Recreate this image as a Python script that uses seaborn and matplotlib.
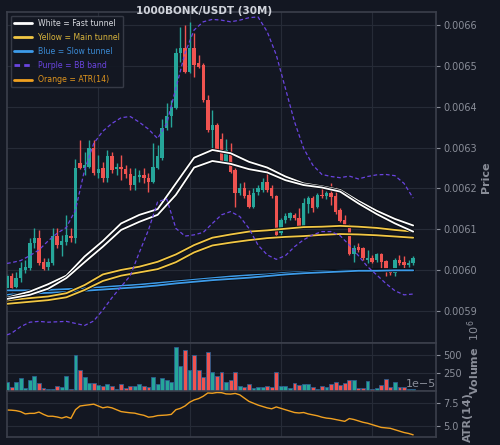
import numpy as np
import matplotlib
matplotlib.use('Agg')
import matplotlib.pyplot as plt
import matplotlib.patheffects as pe
from matplotlib.lines import Line2D
from matplotlib.ticker import FormatStrFormatter, MultipleLocator, FixedLocator
import seaborn as sns

# ---- candle data (prices in 1e-6 USDT) ----
opens = [5955, 5984, 5959, 5980, 6000, 6004, 6065, 6078, 6019, 6008,
         6016, 6082, 6061, 6069, 6084, 6079, 6261, 6251, 6253, 6298,
         6237, 6249, 6225, 6278, 6247, 6253, 6247, 6234, 6208, 6227,
         6233, 6225, 6216, 6251, 6275, 6347, 6376, 6398, 6531, 6543,
         6486, 6543, 6506, 6502, 6416, 6343, 6355, 6322, 6265, 6290,
         6245, 6188, 6202, 6184, 6155, 6192, 6196, 6216, 6200, 6180,
         6090, 6122, 6127, 6135, 6128, 6105, 6161, 6176, 6155, 6184,
         6180, 6189, 6180, 6147, 6122, 6110, 6038, 6057, 6053, 6025,
         6029, 6025, 6038, 6022, 6004, 5992, 6025, 6020, 6011, 6016]
highs = [5990, 5992, 5996, 6020, 6025, 6078, 6102, 6098, 6029, 6029,
         6102, 6102, 6086, 6135, 6102, 6273, 6318, 6290, 6318, 6318,
         6282, 6265, 6294, 6290, 6261, 6282, 6257, 6249, 6249, 6245,
         6249, 6237, 6310, 6306, 6371, 6408, 6416, 6543, 6596, 6600,
         6608, 6580, 6527, 6506, 6429, 6392, 6359, 6335, 6322, 6310,
         6249, 6212, 6216, 6196, 6200, 6208, 6225, 6245, 6208, 6184,
         6127, 6139, 6143, 6139, 6151, 6176, 6180, 6180, 6188, 6200,
         6193, 6212, 6204, 6151, 6135, 6112, 6061, 6065, 6057, 6049,
         6037, 6041, 6041, 6025, 6006, 6029, 6037, 6033, 6025, 6033]
lows = [5948, 5947, 5955, 5971, 5992, 6000, 6053, 6012, 6000, 6000,
        6012, 6053, 6033, 6061, 6069, 6065, 6247, 6233, 6249, 6233,
        6225, 6216, 6216, 6237, 6233, 6220, 6225, 6196, 6196, 6216,
        6212, 6192, 6212, 6247, 6269, 6343, 6351, 6394, 6510, 6482,
        6482, 6473, 6494, 6412, 6339, 6298, 6290, 6261, 6261, 6237,
        6155, 6184, 6176, 6151, 6151, 6184, 6192, 6192, 6176, 6082,
        6082, 6114, 6122, 6122, 6102, 6102, 6139, 6143, 6151, 6176,
        6174, 6159, 6137, 6118, 6106, 6037, 6020, 6043, 6025, 6016,
        6016, 6020, 6000, 5984, 5988, 5984, 6012, 6004, 6008, 6012]
closes = [5984, 5957, 5980, 6004, 6008, 6065, 6079, 6016, 6002, 6019,
          6082, 6060, 6071, 6086, 6078, 6249, 6251, 6257, 6298, 6237,
          6247, 6225, 6278, 6245, 6253, 6247, 6234, 6208, 6230, 6233,
          6226, 6216, 6253, 6278, 6347, 6376, 6400, 6531, 6543, 6486,
          6543, 6502, 6498, 6416, 6343, 6355, 6294, 6265, 6294, 6241,
          6188, 6202, 6180, 6155, 6189, 6200, 6216, 6196, 6180, 6086,
          6122, 6131, 6139, 6127, 6105, 6163, 6176, 6153, 6184, 6180,
          6188, 6178, 6143, 6121, 6110, 6038, 6055, 6049, 6029, 6030,
          6020, 6038, 6020, 6000, 5992, 6025, 6016, 6011, 6018, 6029]

# volume in millions
volume_m = [123, 62, 123, 184, 38, 147, 208, 109, 43, 24,
            24, 76, 53, 208, 29, 504, 297, 194, 109, 109,
            90, 67, 100, 76, 29, 95, 38, 67, 67, 100,
            67, 53, 194, 100, 179, 147, 123, 607, 353, 570,
            288, 504, 288, 194, 537, 264, 212, 264, 132, 147,
            264, 67, 53, 100, 43, 53, 53, 76, 53, 259,
            67, 67, 38, 109, 85, 100, 100, 53, 29, 71,
            53, 100, 123, 85, 109, 147, 147, 38, 38, 137,
            24, 38, 85, 170, 53, 123, 62, 53, 29, 24]

# ATR(14) in 1e-5
atr_e5 = [6.72, 6.70, 6.65, 6.54, 6.30, 6.36, 6.36, 6.50, 6.25, 6.05,
          6.05, 5.97, 5.85, 6.00, 5.82, 6.75, 7.15, 7.22, 7.28, 7.35,
          7.15, 6.95, 7.05, 6.95, 6.75, 6.55, 6.48, 6.42, 6.38, 6.25,
          6.15, 5.95, 6.00, 6.12, 6.15, 6.18, 6.25, 6.75, 6.90, 7.15,
          7.55, 7.80, 7.95, 8.20, 8.55, 8.52, 8.60, 8.58, 8.45, 8.43,
          8.50, 8.35, 8.00, 7.65, 7.45, 7.25, 7.10, 6.95, 6.85, 7.05,
          6.90, 6.75, 6.60, 6.45, 6.40, 6.45, 6.30, 6.20, 6.10, 5.95,
          5.85, 5.80, 5.70, 5.60, 5.50, 5.80, 5.70, 5.55, 5.40, 5.30,
          5.15, 5.00, 4.85, 4.80, 4.75, 4.60, 4.45, 4.30, 4.20, 4.05]

# tunnels, read every 4th bar (1e-6 USDT)
tunnel_idx = [0, 1, 5, 9, 13, 17, 21, 25, 29, 33, 37, 41, 45,
              49, 53, 57, 61, 65, 69, 73, 77, 81, 85, 89]
fast_hi = [5932, 5935, 5947, 5965, 5986, 6033, 6071, 6114, 6135, 6149, 6212, 6275, 6294,
           6286, 6265, 6251, 6229, 6212, 6205, 6196, 6169, 6145, 6125, 6109]
fast_lo = [5929, 5931, 5939, 5954, 5980, 6019, 6057, 6098, 6118, 6135, 6184, 6251, 6267,
           6260, 6247, 6239, 6220, 6208, 6202, 6192, 6163, 6137, 6114, 6094]
main_hi = [5925, 5927, 5931, 5935, 5943, 5963, 5989, 6000, 6008, 6020, 6038, 6061, 6079,
           6087, 6094, 6097, 6101, 6105, 6106, 6108, 6106, 6103, 6098, 6094]
main_lo = [5917, 5918, 5922, 5926, 5933, 5951, 5973, 5986, 5994, 6002, 6019, 6043, 6060,
           6067, 6073, 6078, 6081, 6083, 6086, 6088, 6087, 6085, 6082, 6079]
slow_hi = [5950, 5950, 5950, 5951, 5953, 5955, 5958, 5961, 5964, 5968, 5972, 5976, 5980,
           5984, 5987, 5989, 5993, 5995, 5997, 5998, 5999, 6000, 6000, 6000]
slow_lo = [5939, 5940, 5942, 5944, 5946, 5949, 5952, 5955, 5958, 5962, 5967, 5971, 5975,
           5978, 5981, 5985, 5989, 5992, 5994, 5996, 5998, 5998, 5999, 5999]

# Bollinger bands, read every 2nd bar (1e-6 USDT)
bb_idx = [0] + list(range(1, 90, 2))
bb_upper = [6016, 6018, 6023, 6035, 6049, 6071, 6090, 6104, 6147, 6245, 6310,
            6340, 6359, 6373, 6376, 6362, 6345, 6322, 6359, 6445, 6531,
            6588, 6608, 6614, 6612, 6608, 6612, 6618, 6620, 6584, 6527,
            6445, 6363, 6298, 6257, 6234, 6229, 6226, 6230, 6223, 6229,
            6233, 6234, 6231, 6212, 6176]
bb_lower = [5841, 5845, 5861, 5872, 5874, 5872, 5873, 5874, 5869, 5864, 5875,
            5902, 5932, 5959, 5986, 6043, 6098, 6167, 6174, 6102, 6083,
            6086, 6092, 6114, 6135, 6143, 6131, 6102, 6061, 6037, 6026,
            6035, 6057, 6074, 6086, 6094, 6094, 6084, 6061, 6035, 6008,
            5988, 5967, 5949, 5939, 5941]

# ---- style ----
BG = '#131722'
GRID = '#262b37'
SPINE = '#3b3f4b'
TXT = '#8a8e99'
UP = '#26a69a'
DOWN = '#ef5350'
WHITE = '#ffffff'
YELLOW = '#f2c744'
BLUE = '#3d9be9'
PURPLE = '#6a44e0'
ORANGE = '#f0a020'

sns.set_theme(style='dark', rc={'axes.facecolor': BG, 'figure.facecolor': BG,
                                'axes.edgecolor': SPINE, 'grid.color': GRID,
                                'text.color': TXT, 'ytick.color': TXT, 'xtick.color': TXT})
plt.rcParams['font.family'] = ['DejaVu Sans']

fig = plt.figure(figsize=(5, 4.45), dpi=100)
ax_p = fig.add_axes([0.014, 0.2292, 0.858, 0.7438])
ax_v = fig.add_axes([0.014, 0.1213, 0.858, 0.1079], sharex=ax_p)
ax_a = fig.add_axes([0.014, 0.0180, 0.858, 0.1033], sharex=ax_p)

o = np.array(opens) * 1e-6
h = np.array(highs) * 1e-6
l = np.array(lows) * 1e-6
c = np.array(closes) * 1e-6
x = np.arange(len(o))
cols = np.where(c >= o, UP, DOWN)

# candles
ax_p.vlines(x, l, h, colors=cols, lw=1, zorder=2)
ax_p.bar(x, np.maximum(np.abs(c - o), 1e-6), bottom=np.minimum(o, c), width=0.75,
         color=cols, linewidth=0, zorder=3)

# tunnels
stroke = [pe.Stroke(linewidth=2.6, foreground='#0b0e14'), pe.Normal()]
for ys, col in [(slow_hi, BLUE), (slow_lo, BLUE), (main_hi, YELLOW), (main_lo, YELLOW),
                (fast_hi, WHITE), (fast_lo, WHITE)]:
    sns.lineplot(x=tunnel_idx, y=np.array(ys) * 1e-6, color=col, lw=1.3, ax=ax_p,
                 errorbar=None, sort=False, path_effects=stroke, zorder=4)

# BB bands
for ys in [bb_upper, bb_lower]:
    sns.lineplot(x=bb_idx, y=np.array(ys) * 1e-6, color=PURPLE, lw=0.9, ax=ax_p,
                 errorbar=None, sort=False, linestyle=(0, (3, 2)), zorder=4)

# volume
ax_v.bar(x, volume_m, width=0.85, color=cols, edgecolor='#2c5d8f', linewidth=0.6, zorder=3)

# ATR
sns.lineplot(x=x, y=np.array(atr_e5) * 1e-5, color=ORANGE, lw=1.0, ax=ax_a, errorbar=None)

# axes
ax_p.set_xlim(0, 94)
ax_p.set_ylim(0.005821, 0.006632)
ax_v.set_ylim(0, 668)
ax_a.set_ylim(3.82e-5, 8.76e-5)

ax_p.yaxis.set_major_locator(MultipleLocator(0.0001))
ax_p.yaxis.set_major_formatter(FormatStrFormatter('%.4f'))
ax_v.yaxis.set_major_locator(FixedLocator([250, 500]))
ax_a.yaxis.set_major_locator(MultipleLocator(2.5e-5))

for ax, lab in [(ax_p, 'Price'), (ax_v, 'Volume  $10^{6}$'), (ax_a, 'ATR(14)')]:
    ax.set_facecolor(BG)
    ax.xaxis.set_major_locator(FixedLocator([20, 40, 60, 80]))
    ax.grid(True, color=GRID, lw=0.8)
    ax.set_axisbelow(True)
    ax.yaxis.tick_right()
    ax.yaxis.set_label_position('right')
    ax.tick_params(axis='y', colors=TXT, labelsize=7, length=3, width=0.8, pad=2,
                   left=False, right=True)
    ax.tick_params(axis='x', bottom=False, labelbottom=False)
    for sp in ax.spines.values():
        sp.set_color(SPINE)
        sp.set_linewidth(1.2)
    ax.set_xlabel('')
    ax.set_ylabel(lab, color=TXT, fontsize=8, fontweight='bold', labelpad=3)

# keep the two lower labels from running into each other
ax_v.yaxis.label.set_y(0.70)
ax_a.yaxis.label.set_y(0.44)

ax_a.yaxis.get_offset_text().set_fontsize(8)
ax_a.yaxis.get_offset_text().set_color(TXT)

# legend
handles = [Line2D([], [], color=WHITE, lw=2, label='White = Fast tunnel'),
           Line2D([], [], color=YELLOW, lw=2, label='Yellow = Main tunnel'),
           Line2D([], [], color=BLUE, lw=2, label='Blue = Slow tunnel'),
           Line2D([], [], color=PURPLE, lw=2, ls=(0, (2, 1.5)), label='Purple = BB band'),
           Line2D([], [], color=ORANGE, lw=2, label='Orange = ATR(14)')]
leg = ax_p.legend(handles=handles, loc='upper left', fontsize=5.6, frameon=True,
                  facecolor=BG, edgecolor=SPINE, framealpha=0.9, handlelength=2.3,
                  labelspacing=0.65)
for txt, col in zip(leg.get_texts(), ['#d8dae0', '#d9b43c', '#3a8ad4', '#6a44e0', '#e0951e']):
    txt.set_color(col)

fig.text(0.408, 0.975, '1000BONK/USDT (30M)', ha='center', va='center',
         color='#d1d4dc', fontsize=7.5, fontweight='bold')

fig.savefig('out.png', dpi=100, facecolor=BG)
